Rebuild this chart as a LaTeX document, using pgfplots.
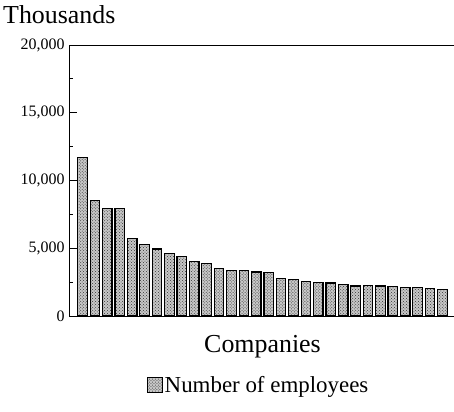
\documentclass[border=0pt]{standalone}
\usepackage{fontspec}
\setmainfont{Liberation Serif}
\usepackage{pgfplots}
\pgfplotsset{compat=1.18}
\usetikzlibrary{patterns}
\begin{document}
\begin{tikzpicture}
\useasboundingbox (0bp,0bp) rectangle (454bp,412bp);
\node[anchor=base west,font=\fontsize{26}{28}\selectfont,inner sep=0] at (3bp,388bp) {Thousands};
\begin{axis}[
  at={(69bp,96bp)}, anchor=south west,
  scale only axis, width=387bp, height=271bp,
  xmin=-0.088, xmax=31.09,
  ymin=0, ymax=20000,
  xtick=\empty,
  ytick={0,5000,10000,15000,20000},
  minor y tick num=1,
  ytick pos=left,
  tick align=inside,
  major tick length=8bp, minor tick length=4bp,
  every tick/.style={black, line width=0.8pt},
  axis line style={black, line width=0.9pt},
  scaled y ticks=false,
  yticklabel style={font=\fontsize{16}{18}\selectfont, /pgf/number format/assume math mode=true, xshift=-1bp},
  /pgf/number format/.cd, 1000 sep={,}, fixed, /pgfplots/.cd,
  xlabel={Companies},
  xlabel style={font=\fontsize{26}{28}\selectfont, at={(axis description cs:0.5,-0.06)}, anchor=north},
  ybar, bar width=9.5bp,
  legend style={at={(axis description cs:0.49,-0.255)}, anchor=center, draw=none, fill=none,
     font=\fontsize{23}{25}\selectfont},
  legend image code/.code={\draw[#1, line width=0.8pt] (0bp,-7bp) rectangle (15bp,8bp);},
]
\addplot[draw=black, line width=1.2pt, fill=black!22, postaction={pattern=crosshatch dots, pattern color=black!80}] coordinates {
(1,11700) (2,8500) (3,7950) (4,7950) (5,5700) (6,5250) (7,4950) (8,4600) (9,4400) (10,4000)
(11,3850) (12,3500) (13,3350) (14,3330) (15,3250) (16,3200) (17,2750) (18,2680) (19,2560) (20,2460)
(21,2440) (22,2310) (23,2220) (24,2260) (25,2210) (26,2200) (27,2130) (28,2120) (29,2050) (30,1970)
};
\addlegendentry{Number of employees}
\end{axis}
\end{tikzpicture}
\end{document}
